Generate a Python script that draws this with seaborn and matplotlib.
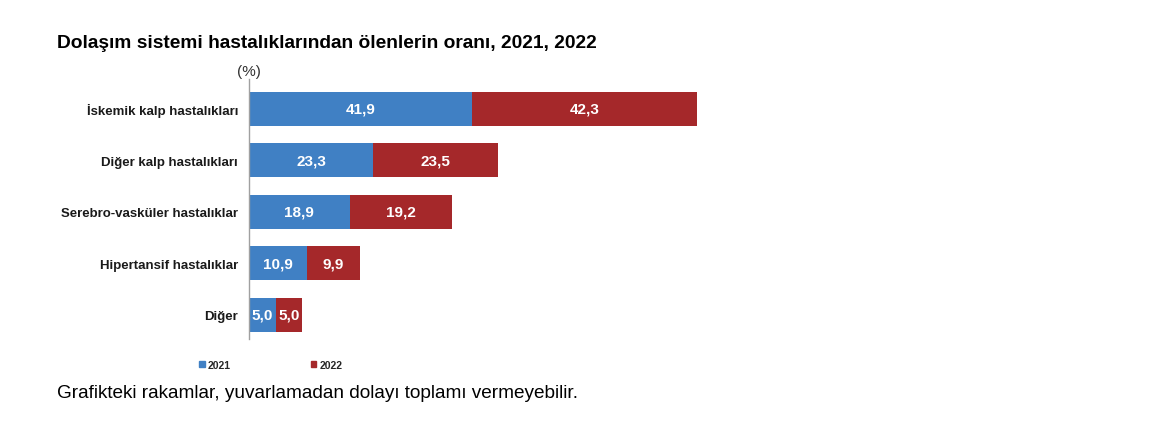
import numpy as np
import pandas as pd
import seaborn as sns
import matplotlib.pyplot as plt
from matplotlib.patches import Patch

# Data (%)
categories = ["İskemik kalp hastalıkları", "Diğer kalp hastalıkları",
              "Serebro-vasküler hastalıklar", "Hipertansif hastalıklar", "Diğer"]
val_2021 = [41.9, 23.3, 18.9, 10.9, 5.0]
val_2022 = [42.3, 23.5, 19.2, 9.9, 5.0]
years = ["2021", "2022"]

blue = "#4080C4"
red = "#A5282A"

sns.set_theme(style="white")
plt.rcParams['font.family'] = ['Liberation Sans', 'DejaVu Sans']

df = pd.DataFrame({"cat": categories, "y2021": val_2021, "y2022": val_2022})
df["total"] = df["y2021"] + df["y2022"]

fig = plt.figure(figsize=(11.6, 4.35), dpi=100)
ax = fig.add_axes([249 / 1160, 1 - 340 / 435, 532 / 1160, 260 / 435])

# stacked: total in red underneath, 2021 in blue on top
sns.barplot(data=df, x="total", y="cat", color=red, width=0.66, ax=ax,
            saturation=1, linewidth=0)
sns.barplot(data=df, x="y2021", y="cat", color=blue, width=0.66, ax=ax,
            saturation=1, linewidth=0)

for i, (a, b) in enumerate(zip(val_2021, val_2022)):
    ax.text(a / 2, i, f"{a:.1f}".replace(".", ","), ha="center", va="center",
            color="white", fontsize=11, fontweight="bold")
    ax.text(a + b / 2, i, f"{b:.1f}".replace(".", ","), ha="center", va="center",
            color="white", fontsize=11, fontweight="bold")

ax.set_xlim(0, 100)
ax.set_ylim(4.47, -0.58)
ax.set_xlabel("")
ax.set_ylabel("")
ax.set_xticks([])
for s in ["top", "right", "bottom"]:
    ax.spines[s].set_visible(False)
ax.spines["left"].set_color("#A0A0A0")
ax.spines["left"].set_linewidth(1)
ax.tick_params(axis="y", length=0, pad=8, labelsize=9.5)
for lbl in ax.get_yticklabels():
    lbl.set_fontweight("bold")
    lbl.set_color("#1a1a1a")

fig.text(249 / 1160, 1 - 72 / 435, "(%)", ha="center", va="center", fontsize=11, color="#333333")
fig.text(57 / 1160, 1 - 43 / 435, "Dolaşım sistemi hastalıklarından ölenlerin oranı, 2021, 2022",
         ha="left", va="center", fontsize=13.8, fontweight="bold", color="black")
fig.text(57 / 1160, 1 - 394 / 435, "Grafikteki rakamlar, yuvarlamadan dolayı toplamı vermeyebilir.",
         ha="left", va="center", fontsize=13.7, color="black")

handles = [Patch(color=blue, label=years[0]), Patch(color=red, label=years[1])]
leg = fig.legend(handles=handles, loc="center left", bbox_to_anchor=(190 / 1160, 1 - 366 / 435),
                 ncol=2, frameon=False, fontsize=7.5, handlelength=0.5, handleheight=0.5,
                 handletextpad=0.3, columnspacing=7.7)
for t in leg.get_texts():
    t.set_fontweight("bold")

fig.savefig("out.png", dpi=100)
